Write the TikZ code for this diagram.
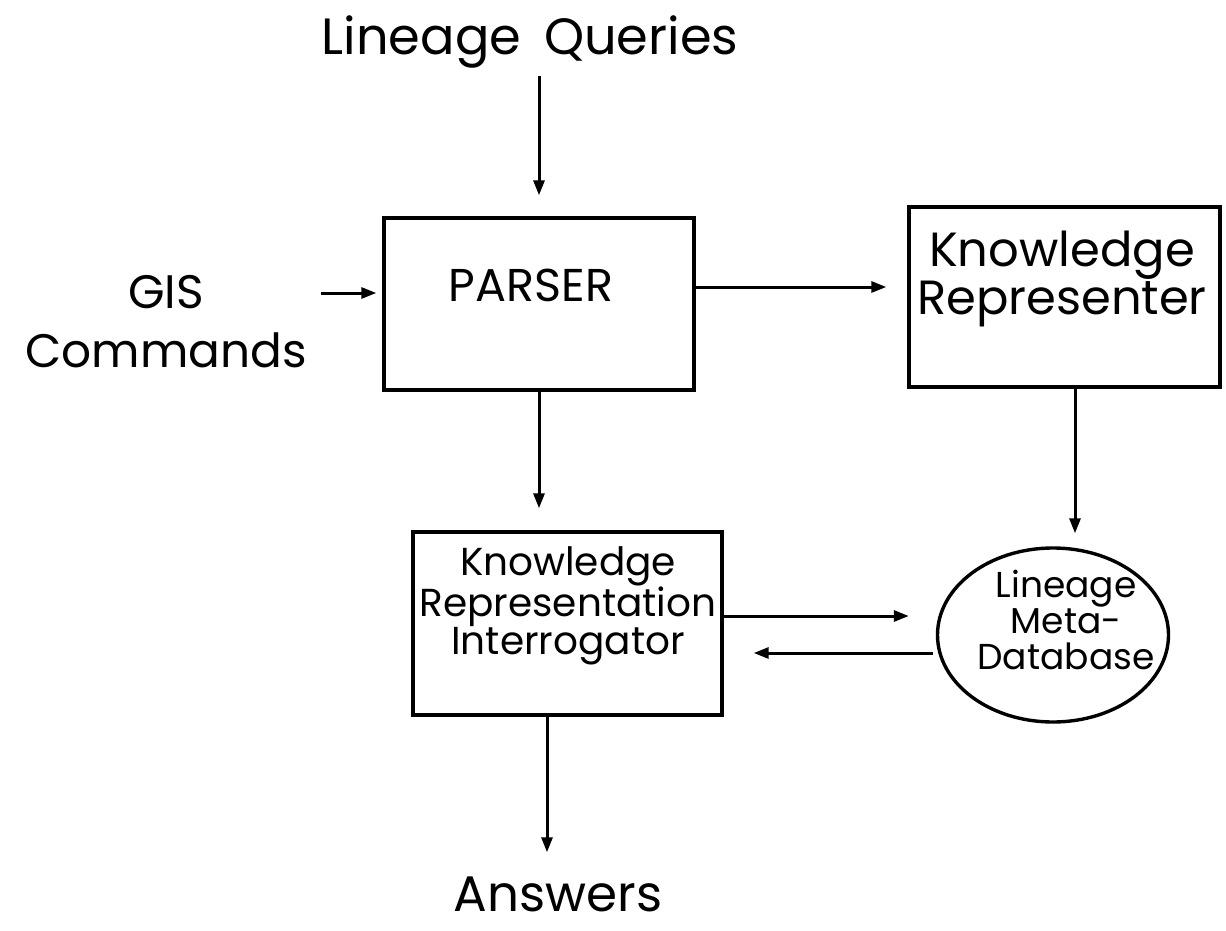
\documentclass[tikz,border=0pt]{standalone}
\usepackage{fontspec}
\setmainfont{Poppins}
\usetikzlibrary{arrows.meta,shapes.geometric}

\tikzset{
  boxnode/.style={draw, line width=3.4pt, rectangle, inner sep=0pt},
  dbnode/.style={draw, line width=3.4pt, ellipse, inner sep=0pt},
  arr/.style={line width=3pt, -{Triangle[length=15pt,width=11pt]}},
  lbl/.style={inner sep=0pt, align=center},
}

\begin{document}
\begin{tikzpicture}[x=1pt, y=-1pt]
  \useasboundingbox (0,0) rectangle (1226,931);

  % outer labels
  \node[lbl, font=\fontsize{51}{51}\selectfont] (lq) at (530,42) {Lineage\hspace{0.45em}Queries};
  \node[lbl, font=\fontsize{47}{59}\selectfont] (gis) at (166,322) {GIS\\Commands};
  \node[lbl, font=\fontsize{50}{50}\selectfont] (ans) at (558,894) {Answers};

  % boxes and their texts
  \node[boxnode, minimum width=310pt, minimum height=172pt] (parser) at (539,304) {};
  \node[lbl, font=\fontsize{46}{46}\selectfont] (parsertxt) at (531,285) {PARSER};

  \node[boxnode, minimum width=311pt, minimum height=180pt] (kr) at (1064.5,297) {};
  \node[lbl, font=\fontsize{48}{35}\selectfont] (krtxt) at (1062,279) {Knowledge\\Representer};

  \node[boxnode, minimum width=309pt, minimum height=183pt] (kri) at (567.5,623.5) {};
  \node[lbl, font=\fontsize{39}{34}\selectfont] (kritxt) at (568,606) {Knowledge\\Representation\\Interrogator};

  \node[dbnode, minimum width=231pt, minimum height=174pt] (db) at (1053,635) {};
  \node[lbl, font=\fontsize{36}{36}\selectfont] (dbtxt) at (1066,620) {Lineage\\Meta-\\Database};

  % connectors
  \draw[arr, shorten <=8pt, shorten >=21pt] (parser.north |- lq.south) -- (parser.north);
  \draw[arr, shorten <=14pt, shorten >=6pt] (gis.east |- 0,293) -- (parser.west |- 0,293);
  \draw[arr, shorten >=21pt] (parser.east |- 0,287) -- (kr.west |- 0,287);
  \draw[arr, shorten >=22pt] (parser.south) -- (parser.south |- kri.north);
  \draw[arr, shorten >=13pt] (kr.south -| 1075,0) -- (db.north -| 1075,0);
  \draw[arr, shorten >=27pt] (kri.east |- 0,616) -- (db.west |- 0,616);
  \draw[arr, shorten <=3pt, shorten >=30pt] (db.west |- 0,653) -- (kri.east |- 0,653);
  \draw[arr, shorten >=24pt] (kri.south -| 547,0) -- (ans.north -| 547,0);
\end{tikzpicture}
\end{document}
